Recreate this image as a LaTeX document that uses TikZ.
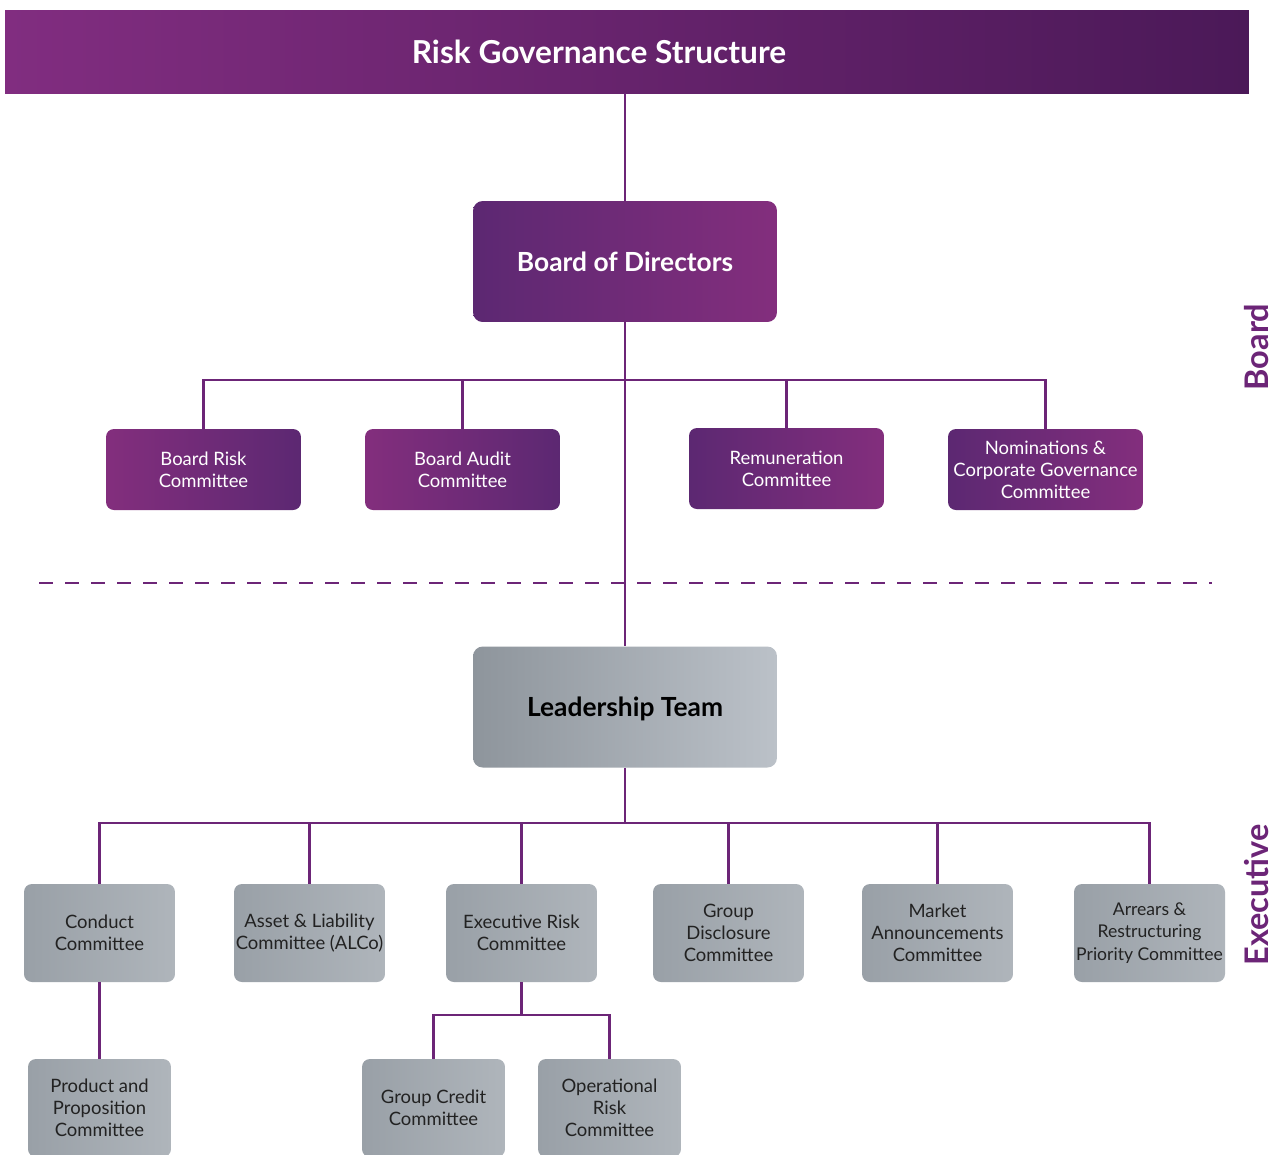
\documentclass[tikz,border=0pt]{standalone}
\usepackage{fontspec}
\setmainfont{Lato}
\usetikzlibrary{positioning, calc}
\definecolor{rgline}{HTML}{6C2577}
\definecolor{rgmagenta}{HTML}{832E7D}
\definecolor{rgdark}{HTML}{5C2872}
\definecolor{rgtitleL}{HTML}{812D80}
\definecolor{rgtitleR}{HTML}{4B1958}
\definecolor{rggreyL}{HTML}{8E959C}
\definecolor{rggreyR}{HTML}{BBC1C8}
\definecolor{rgboxL}{HTML}{99A0A7}
\definecolor{rgboxR}{HTML}{AFB5BB}
\definecolor{rgtext}{HTML}{222222}
\tikzset{
  bcbox/.style={
    rectangle, rounded corners=4.5pt, draw=none,
    minimum width=3.9cm, minimum height=1.62cm,
    align=center, inner sep=1pt, text=white,
    font=\fontsize{10.5}{12.6}\selectfont
  },
  bcfwd/.style={bcbox, left color=rgmagenta, right color=rgdark},
  bcrev/.style={bcbox, left color=rgdark, right color=rgmagenta},
  topbox/.style={
    rectangle, rounded corners=5.5pt, draw=none,
    minimum width=6.08cm, minimum height=2.42cm, text depth=0pt,
    align=center, font=\fontsize{15}{18}\selectfont\bfseries
  },
  exbox/.style={
    rectangle, rounded corners=4.5pt, draw=none,
    left color=rgboxL, right color=rgboxR,
    minimum width=3.02cm, minimum height=1.96cm,
    align=center, inner sep=1pt, text=rgtext,
    font=\fontsize{10.5}{12.6}\selectfont
  },
  subbox/.style={exbox, minimum width=2.86cm},
  sidelabel/.style={rotate=90, text=rgline, font=\fontsize{18.5}{22}\selectfont\bfseries},
  link/.style={draw=rgline, line width=1.4pt},
  sepline/.style={draw=rgline, line width=1.3pt, dash pattern=on 8pt off 6.8pt},
}

\begin{document}
\begin{tikzpicture}[x=0.02cm, y=-0.02cm]
        \clip (0,0) rectangle (1274,1154);
        \fill[white] (0,0) rectangle (1274,1154);
        % title bar
        \node[rectangle, draw=none, left color=rgtitleL, right color=rgtitleR,
              minimum width=24.88cm, minimum height=1.66cm] (title) at (627,51.5) {};
        \node[text=white, font=\fontsize{18}{21}\selectfont\bfseries] (titletext) at (599,51.5) {Risk Governance Structure};
        % board level
        \node[topbox, left color=rgdark, right color=rgmagenta, text=white] (board) at (625,261.5) {Board of Directors};
        \node[bcfwd] (brc) at (203.5,469.5) {Board Risk\\Committee};
        \node[bcfwd] (bac) at (462.5,469.5) {Board Audit\\Committee};
        \node[bcrev] (rem) at (786.5,468.5) {Remuneration\\Committee};
        \node[bcrev] (ncg) at (1045.5,469.5) {Nominations \&\\Corporate Governance\\Committee};
        \coordinate (bbus) at (625,380);
        % executive level
        \node[topbox, left color=rggreyL, right color=rggreyR, text=black] (lead) at (625,707) {Leadership Team};
        \node[exbox] (cc)  at (99.5,933)  {Conduct\\Committee};
        \node[exbox] (alco) at (309.5,933) {Asset \& Liability\\Committee (ALCo)};
        \node[exbox] (erc) at (521.5,933) {Executive Risk\\Committee};
        \node[exbox] (gdc) at (728.5,933) {Group\\Disclosure\\Committee};
        \node[exbox] (mac) at (937.5,933) {Market\\Announcements\\Committee};
        \node[exbox, font=\fontsize{10}{12.6}\selectfont] (arp) at (1149.5,933) {Arrears \&\\Restructuring\\Priority Committee};
        \coordinate (ebus) at (625,823);
        \node[subbox] (ppc) at (99.5,1108)  {Product and\\Proposition\\Committee};
        \node[subbox] (gcc) at (433.5,1108) {Group Credit\\Committee};
        \node[subbox] (orc) at (609.5,1108) {Operational\\Risk\\Committee};
        \coordinate (rbus) at (521.5,1015);
        % side labels and separator
        \node[sidelabel] (lboard) at (1257,347) {Board};
        \node[sidelabel] (lexec) at (1257,895) {Executive};
        \coordinate (sepL) at (39,583);
        \coordinate (sepR) at (1212,583);
        \draw[sepline] (sepL) -- (sepR);
        % connectors
        \draw[link] (title.south -| board.north) -- (board.north);
        \draw[link] (board.south) -- (lead.north);
        \draw[link] (brc.north) |- (bbus) -| (ncg.north);
        \draw[link] (bac.north) -- (bac.north |- bbus);
        \draw[link] (rem.north) -- (rem.north |- bbus);
        \draw[link] (lead.south) -- (ebus);
        \draw[link] (cc.north) |- (ebus) -| (arp.north);
        \draw[link] (alco.north) -- (alco.north |- ebus);
        \draw[link] (erc.north) -- (erc.north |- ebus);
        \draw[link] (gdc.north) -- (gdc.north |- ebus);
        \draw[link] (mac.north) -- (mac.north |- ebus);
        \draw[link] (cc.south) -- (ppc.north);
        \draw[link] (erc.south) -- (rbus);
        \draw[link] (gcc.north) |- (rbus) -| (orc.north);
      \end{tikzpicture}
\end{document}
